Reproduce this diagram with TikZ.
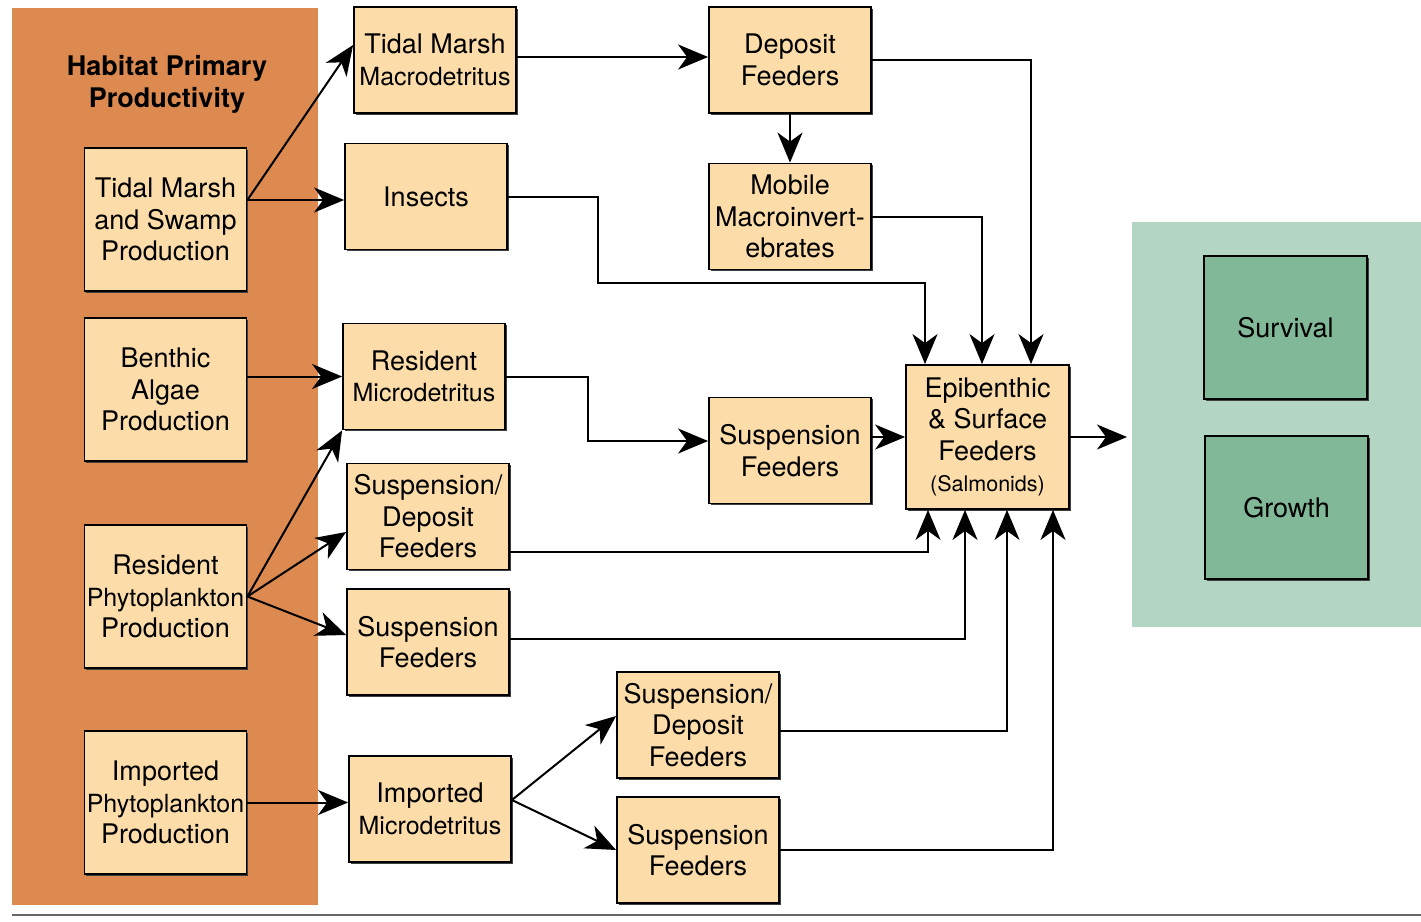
\documentclass[tikz,border=0pt]{standalone}
\usepackage{fontspec}
\setmainfont{TeX Gyre Heros}
\usetikzlibrary{arrows.meta,shadows}
\definecolor{orangebg}{RGB}{221,138,80}
\definecolor{peach}{RGB}{252,221,170}
\definecolor{greenbg}{RGB}{179,213,196}
\definecolor{greenbox}{RGB}{128,184,152}
\tikzset{
  box/.style={draw=black, line width=1.8pt, fill=peach, inner sep=0pt, align=center,
    minimum width=162pt, minimum height=106pt,
    font=\fontsize{27}{31.5}\selectfont,
    drop shadow={shadow xshift=1.5pt, shadow yshift=-1.5pt, fill=black!75, opacity=1}},
  tallbox/.style={box, minimum height=143pt},
  gbox/.style={box, fill=greenbox, minimum width=163pt, minimum height=143pt},
  arr/.style={line width=2pt, -{Stealth[length=30pt,width=25pt,inset=9pt]}},
}
\begin{document}
\begin{tikzpicture}[x=1pt,y=-1pt]
\useasboundingbox (0,0) rectangle (1421,921);
% backgrounds
\fill[orangebg] (12,8) rectangle (318,905);
\fill[greenbg] (1132,222) rectangle (1421,627);
\draw[black!60, line width=1.5pt] (12,915) -- (1421,915);
\node[font=\bfseries\fontsize{27}{32}\selectfont, align=center] (title) at (167,84) {Habitat Primary\\Productivity};
% left column
\node[tallbox] (tmsp) at (165.5,219.5) {Tidal Marsh\\and Swamp\\Production};
\node[tallbox] (ba) at (165.5,389.5) {Benthic\\Algae\\Production};
\node[tallbox] (rpp) at (165.5,596.5) {Resident\\{\fontsize{25}{31.5}\selectfont Phytoplankton}\\Production};
\node[tallbox] (ipp) at (165.5,802.5) {Imported\\{\fontsize{25}{31.5}\selectfont Phytoplankton}\\Production};
% middle column
\node[box] (tmm) at (435,60) {Tidal Marsh\\{\fontsize{25}{31.5}\selectfont Macrodetritus}};
\node[box] (ins) at (426,196.5) {Insects};
\node[box] (rm) at (424,376.5) {Resident\\{\fontsize{25}{31.5}\selectfont Microdetritus}};
\node[box] (sd) at (428,516.5) {Suspension/\\Deposit\\Feeders};
\node[box] (sf) at (428,642) {Suspension\\Feeders};
\node[box] (im) at (430,809) {Imported\\{\fontsize{25}{31.5}\selectfont Microdetritus}};
% third column
\node[box] (df) at (790,60) {Deposit\\Feeders};
\node[box] (mm) at (790,216.5) {Mobile\\Macroinvert-\\ebrates};
\node[box] (sf1) at (790,450.5) {Suspension\\Feeders};
\node[box] (sd2) at (698,725) {Suspension/\\Deposit\\Feeders};
\node[box] (sf2) at (698,850) {Suspension\\Feeders};
% salmonids
\node[box, minimum width=163pt, minimum height=144pt] (epi) at (987.5,437) {Epibenthic\\\& Surface\\Feeders\\{\fontsize{21.5}{34}\selectfont (Salmonids)}};
% outcomes
\node[gbox] (surv) at (1285.5,327.5) {Survival};
\node[gbox] (grow) at (1286.5,507.5) {Growth};
% coordinates
\coordinate (tmspout) at ([yshift=19.5pt]tmsp.east);
\coordinate (insb) at (598,283);
\coordinate (rmb) at (588,441);
\coordinate (imout) at ([yshift=9pt]im.east);
\coordinate (outend) at (1127,437);
% arrows
\draw[arr] (tmspout) -- ([yshift=15pt]tmm.west);
\draw[arr] (tmspout) -- (ins.west |- tmspout);
\draw[arr] ([yshift=3pt]tmm.east) -- ([yshift=3pt]df.west);
\draw[arr] (df.south) -- (mm.north);
\draw[arr] (df.east) -| ([xshift=43.5pt]epi.north);
\draw[arr] (mm.east) -| ([xshift=-5.5pt]epi.north);
\draw[arr] (ins.east) -| (insb) -| ([xshift=-62.5pt]epi.north);
\draw[arr] (ba.east |- rm.west) -- (rm.west);
\draw[arr] (rm.east) -| (rmb) -- (sf1.west |- rmb);
\draw[arr] (sf1.east |- epi.west) -- (epi.west);
\draw[arr] (epi.east) -- (outend);
\draw[arr] (rpp.east) -- (rm.south west);
\draw[arr] (rpp.east) -- ([yshift=-15.5pt]sd.west);
\draw[arr] (rpp.east) -- ([yshift=7pt]sf.west);
\draw[arr] ([yshift=-35.5pt]sd.east) -| ([xshift=-59.5pt]epi.south);
\draw[arr] ([yshift=3pt]sf.east) -| ([xshift=-22.5pt]epi.south);
\draw[arr] (ipp.east) -- (im.west |- ipp.east);
\draw[arr] (imout) -- ([yshift=9pt]sd2.west);
\draw[arr] (imout) -- (sf2.west);
\draw[arr] ([yshift=-6pt]sd2.east) -| ([xshift=19.5pt]epi.south);
\draw[arr] (sf2.east) -| ([xshift=65.5pt]epi.south);
\end{tikzpicture}
\end{document}
